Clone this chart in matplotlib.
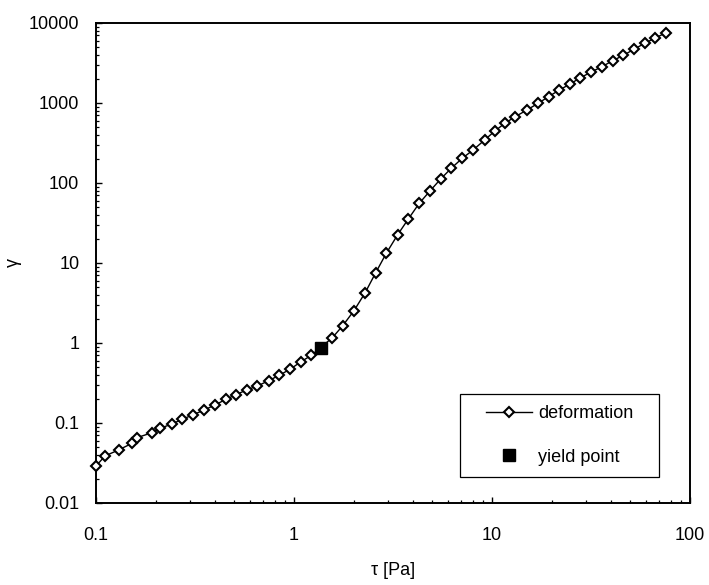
"""
Creep test: deformation vs. shear stress, with the yield point marked
"""

import matplotlib
matplotlib.use('Agg')
import matplotlib.pyplot as plt
from matplotlib.patches import Rectangle
from matplotlib.ticker import LogLocator, FixedLocator, NullFormatter

# Measured shear stress (Pa) and deformation
tau = [0.100, 0.111, 0.130, 0.152, 0.161, 0.192, 0.211, 0.242, 0.272, 0.310,
       0.351, 0.401, 0.454, 0.509, 0.577, 0.653, 0.745, 0.843, 0.954, 1.081,
       1.223, 1.561, 1.762, 2.009, 2.284, 2.586, 2.924, 3.34, 3.78, 4.29,
       4.86, 5.50, 6.23, 7.08, 8.02, 9.18, 10.3, 11.6, 13.1, 15.0, 17.1,
       19.3, 21.9, 24.8, 27.8, 31.7, 35.9, 40.7, 46.1, 52.1, 59.0, 66.8,
       75.7]
gamma = [0.029, 0.0387, 0.046, 0.0557, 0.0655, 0.0757, 0.0859, 0.0972,
         0.111, 0.127, 0.145, 0.169, 0.198, 0.226, 0.259, 0.290, 0.338,
         0.395, 0.469, 0.579, 0.702, 1.161, 1.644, 2.534, 4.22, 7.56, 13.2,
         22.6, 35.5, 55.7, 79.4, 112, 153, 204, 258, 345, 443, 557, 674, 817,
         991, 1199, 1454, 1728, 2053, 2440, 2843, 3380, 3945, 4690, 5570,
         6494, 7570]

# Yield point
tau_yield = [1.364]
gamma_yield = [0.87]

x_ticks = [0.1, 1, 10, 100]
x_tick_labels = ['0.1', '1', '10', '100']
y_ticks = [0.01, 0.1, 1, 10, 100, 1000, 10000]
y_tick_labels = ['0.01', '0.1', '1', '10', '100', '1000', '10000']

plt.rcParams['font.family'] = ['Liberation Sans', 'DejaVu Sans']
FONT_SIZE = 13

fig = plt.figure(figsize=(7.09, 5.85), dpi=100)
ax = fig.add_axes([0.1354, 0.1402, 0.8378, 0.8205])

ax.plot(tau, gamma, color='k', lw=1.0, marker='D', ms=5.4, mfc='white',
        mec='k', mew=1.5, clip_on=False, zorder=3, label='deformation')
ax.plot(tau_yield, gamma_yield, ls='none', marker='s', ms=8, mfc='k',
        mec='k', zorder=4, label='yield point')

ax.set_xscale('log')
ax.set_yscale('log')
ax.set_xlim(0.1, 100)
ax.set_ylim(0.01, 10000)

ax.xaxis.set_major_locator(FixedLocator(x_ticks))
ax.set_xticklabels(x_tick_labels)
ax.yaxis.set_major_locator(FixedLocator(y_ticks))
ax.set_yticklabels(y_tick_labels)
for axis in (ax.xaxis, ax.yaxis):
    axis.set_minor_locator(LogLocator(base=10, subs=range(2, 10),
                                      numticks=20))
    axis.set_minor_formatter(NullFormatter())

ax.tick_params(axis='both', which='major', direction='in', length=4,
               width=1.0, labelsize=FONT_SIZE)
ax.tick_params(axis='both', which='minor', direction='in', length=2.5,
               width=0.9)
ax.tick_params(axis='x', which='major', pad=17)
ax.tick_params(axis='y', which='major', pad=12)

for spine in ax.spines.values():
    spine.set_linewidth(1.4)

ax.set_xlabel('\u03c4 [Pa]', size=FONT_SIZE, labelpad=13)
ax.set_ylabel('\u03b3', size=FONT_SIZE, labelpad=5)

# Legend with a plain rectangular frame
ax.add_patch(Rectangle((0.612, 0.054), 0.335, 0.173, transform=ax.transAxes,
                       fill=True, fc='white', ec='k', lw=0.9, zorder=5))
leg = ax.legend(loc='center', bbox_to_anchor=(0.780, 0.1406), frameon=False,
                fontsize=FONT_SIZE, handlelength=2.6, handletextpad=0.3,
                labelspacing=1.45, borderpad=0)
leg.set_zorder(6)

fig.savefig('out.png', dpi=100)
